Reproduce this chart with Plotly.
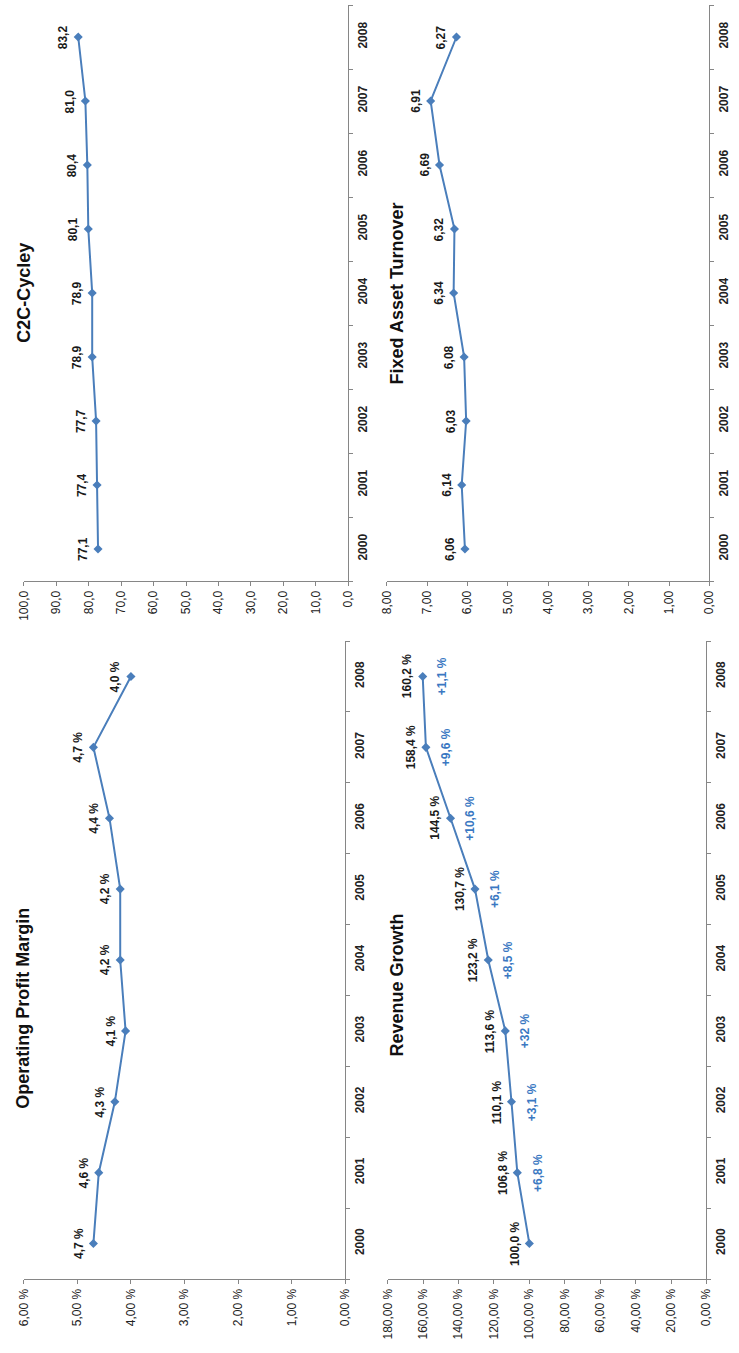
import plotly.graph_objects as go

# ---- data -------------------------------------------------------------
years = ["2000", "2001", "2002", "2003", "2004", "2005", "2006", "2007", "2008"]

c2c_cycle = [77.1, 77.4, 77.7, 78.9, 78.9, 80.1, 80.4, 81.0, 83.2]
fixed_asset_turnover = [6.06, 6.14, 6.03, 6.08, 6.34, 6.32, 6.69, 6.91, 6.27]
operating_margin = [4.7, 4.6, 4.3, 4.1, 4.2, 4.2, 4.4, 4.7, 4.0]          # percent
revenue_index = [100.0, 106.8, 110.1, 113.6, 123.2, 130.7, 144.5, 158.4, 160.2]  # percent, 2000 = 100
revenue_growth_labels = ["+6,8 %", "+3,1 %", "+32 %", "+8,5 %", "+6,1 %",
                         "+10,6 %", "+9,6 %", "+1,1 %"]

# ---- styling ----------------------------------------------------------
W, H = 739, 1353
LINE = "#4A7EBB"
BLUE_TXT = "#3A78C2"
AXIS = "#868686"
FONT = "Liberation Sans, Arial, sans-serif"


def de(v, d):
    return f"{v:.{d}f}".replace(".", ",")


# Each panel is drawn turned on its side: value axis runs horizontally
# (reversed, zero at the right), years run bottom -> top.
panels = [
    dict(title="C2C-Cycley", values=c2c_cycle, box=(17, 348, 5, 581),
         vmax=100, dtick=10, fmt=".1f", suffix="", lab=lambda v: de(v, 1),
         title_xy=(17, 293)),
    dict(title="Fixed Asset Turnover", values=fixed_asset_turnover, box=(387, 716, 5, 581),
         vmax=8, dtick=1, fmt=".2f", suffix="", lab=lambda v: de(v, 2),
         title_xy=(398, 293)),
    dict(title="Operating Profit Margin", values=operating_margin, box=(17, 345, 641, 1279),
         vmax=6, dtick=1, fmt=".2f", suffix=" %", lab=lambda v: de(v, 1) + " %",
         title_xy=(16, 1008)),
    dict(title="Revenue Growth", values=revenue_index, box=(388, 713, 641, 1279),
         vmax=180, dtick=20, fmt=".2f", suffix=" %", lab=lambda v: de(v, 1) + " %",
         title_xy=(398, 985)),
]

fig = go.Figure()
annotations = []
layout_axes = {}

for i, p in enumerate(panels, start=1):
    sfx = "" if i == 1 else str(i)
    xref, yref = "x" + sfx, "y" + sfx
    x0, x1, y0, y1 = p["box"]

    fig.add_trace(go.Scatter(
        x=p["values"], y=years, xaxis=xref, yaxis=yref,
        mode="lines+markers",
        line=dict(color=LINE, width=2),
        marker=dict(symbol="diamond", size=7, color=LINE),
        hoverinfo="skip", showlegend=False,
    ))

    layout_axes["xaxis" + sfx] = dict(
        domain=[x0 / W, x1 / W], anchor=yref,
        range=[p["vmax"], 0], dtick=p["dtick"], tick0=0,
        tickformat=p["fmt"], ticksuffix=p["suffix"],
        tickangle=-90, ticks="outside", ticklen=4, tickcolor=AXIS,
        showline=True, linecolor=AXIS, linewidth=1,
        showgrid=False, zeroline=False,
        tickfont=dict(family=FONT, size=12, color="#222222"),
        fixedrange=True,
    )
    layout_axes["yaxis" + sfx] = dict(
        domain=[1 - y1 / H, 1 - y0 / H], anchor=xref, side="right",
        type="category", categoryorder="array", categoryarray=years,
        range=[-0.5, 8.5], tickson="boundaries",
        tickangle=-90, ticks="outside", ticklen=4, tickcolor=AXIS,
        ticklabelstandoff=3,
        showline=True, linecolor=AXIS, linewidth=1,
        showgrid=False, zeroline=False,
        tickfont=dict(family=FONT, size=12, color="#222222", weight="bold"),
        fixedrange=True,
    )

    # value labels beside each marker (category axis: position by index)
    for k, v in enumerate(p["values"]):
        annotations.append(dict(
            x=v, y=k, xref=xref, yref=yref, text=p["lab"](v),
            textangle=-90, showarrow=False, xshift=-15,
            font=dict(family=FONT, size=12, color="#1a1a1a", weight="bold"),
        ))

    # panel title
    tx, ty = p["title_xy"]
    annotations.append(dict(
        x=tx / W, y=1 - ty / H, xref="paper", yref="paper",
        text=p["title"], textangle=-90, showarrow=False,
        xanchor="center", yanchor="middle",
        font=dict(family=FONT, size=18, color="#111111", weight="bold"),
    ))

# year-on-year growth labels for the revenue panel
for k, (v, g) in enumerate(zip(revenue_index[1:], revenue_growth_labels), start=1):
    annotations.append(dict(
        x=v, y=k, xref="x4", yref="y4", text=g,
        textangle=-90, showarrow=False, xshift=20,
        font=dict(family=FONT, size=12, color=BLUE_TXT, weight="bold"),
    ))

fig.update_layout(
    width=W, height=H,
    margin=dict(l=0, r=0, t=0, b=0),
    paper_bgcolor="white", plot_bgcolor="white",
    separators=",.",
    showlegend=False,
    annotations=annotations,
    **layout_axes,
)

fig.write_html("out.html")
